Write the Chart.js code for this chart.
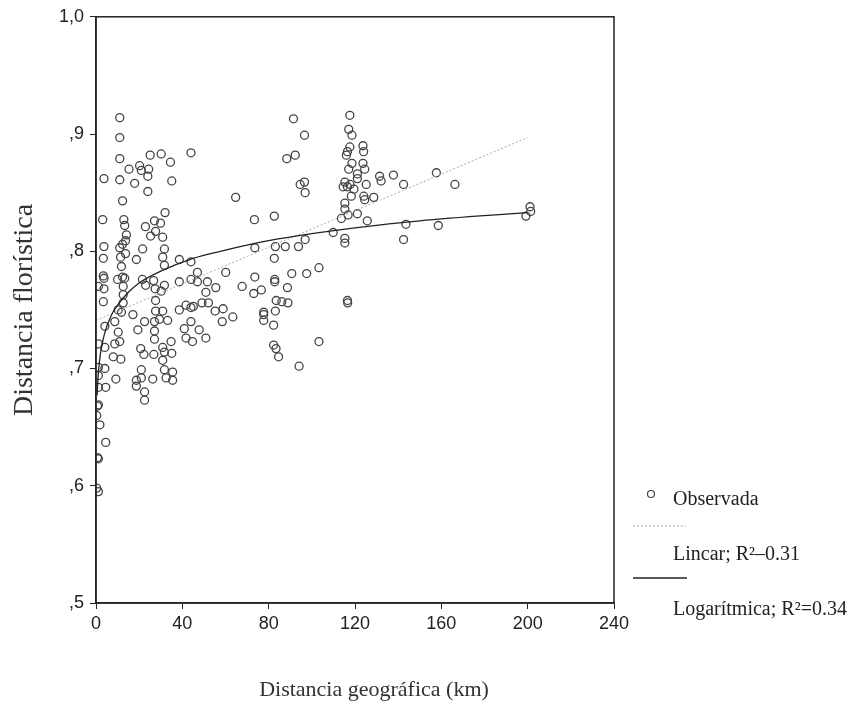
<!DOCTYPE html>
<html>
<head>
<meta charset="utf-8">
<title>Distancia florística vs distancia geográfica</title>
<script src="https://cdn.jsdelivr.net/npm/chart.js@4.4.0/dist/chart.umd.min.js"></script>
<style>
  html, body { margin: 0; padding: 0; background: #fff; }
  #wrap { width: 867px; height: 723px; }
</style>
</head>
<body>
<div id="wrap"><canvas id="myChart" width="867" height="723"></canvas></div>
<script>
// pares de sitios: distancia geografica (km) y distancia floristica
const distGeo = [
  11.0, 11.0, 11.0, 25.1, 30.2, 34.5, 44.0, 20.2, 15.3, 21.0, 24.4, 3.7, 11.0, 17.9, 24.0, 35.1,
  24.0, 12.3, 32.0, 3.1, 12.9, 13.3, 27.1, 29.9, 22.9, 27.6, 14.1, 25.3, 30.9, 13.7, 12.3, 3.7,
  11.0, 21.6, 31.7, 3.4, 11.4, 13.7, 18.7, 30.9, 38.6, 44.0, 11.8, 31.7, 3.4, 3.7, 10.0, 12.3,
  13.3, 21.5, 26.7, 31.7, 38.6, 44.0, 1.1, 3.7, 12.6, 23.0, 27.4, 30.2, 3.4, 12.6, 12.6, 27.6,
  10.3, 11.8, 17.1, 27.6, 30.9, 38.6, 41.7, 44.0, 8.7, 22.5, 27.1, 29.4, 33.2, 44.0, 4.1, 19.4,
  27.1, 40.9, 10.3, 27.1, 41.7, 1.1, 4.1, 8.7, 11.0, 34.8, 30.9, 20.7, 22.2, 26.8, 31.7, 35.1,
  8.0, 11.5, 30.9, 1.1, 4.1, 21.0, 31.7, 35.5, 1.1, 9.2, 18.7, 21.0, 26.3, 32.5, 35.5, 1.1,
  4.5, 18.7, 22.5, 22.5, 1.1, 0.7, 0.3, 1.8, 4.5, 1.1, 0.7, 0.3, 1.1,
  91.5, 96.6, 88.4, 92.3, 94.6, 96.6, 96.9, 64.7, 73.4, 82.6, 73.6, 83.1, 87.7, 93.8, 96.9, 82.6,
  47.0, 60.1, 90.7, 97.6, 47.0, 51.6, 55.5, 67.7, 73.6, 82.8, 82.8, 88.7, 50.9, 73.1, 76.6, 45.1,
  49.1, 52.1, 55.2, 58.9, 63.4, 58.5, 83.5, 86.1, 88.9, 83.1, 77.7, 77.7, 77.7, 82.3, 47.8, 44.7,
  50.9, 82.3, 83.4, 84.6, 94.1,
  117.6, 117.1, 118.6, 117.6, 116.5, 116.0, 123.7, 124.0, 118.6, 123.7, 117.1, 124.5, 121.1, 121.1,
  131.4, 132.1, 137.8, 142.5, 115.3, 116.5, 117.7, 114.5, 119.5, 125.2, 118.3, 124.1, 124.5, 128.7,
  115.3, 115.3, 116.8, 113.7, 121.1, 125.7, 143.6, 109.9, 115.3, 115.3, 142.5, 103.3, 116.5, 116.6,
  103.3, 157.7, 166.3, 158.6, 201.1, 201.4, 199.2
];
const distFlor = [
  .914, .897, .879, .882, .883, .876, .884, .873, .870, .869, .870, .862, .861, .858, .864, .860,
  .851, .843, .833, .827, .827, .822, .826, .824, .821, .817, .814, .813, .812, .809, .806, .804,
  .803, .802, .802, .794, .795, .798, .793, .795, .793, .791, .787, .788, .779, .777, .776, .778,
  .777, .776, .775, .771, .774, .776, .770, .768, .770, .771, .768, .766, .757, .763, .756, .758,
  .750, .748, .746, .749, .749, .750, .754, .752, .740, .740, .740, .742, .741, .740, .736, .733,
  .732, .734, .731, .725, .726, .721, .718, .721, .723, .723, .718, .717, .712, .712, .714, .713,
  .710, .708, .707, .701, .700, .699, .699, .697, .694, .691, .690, .692, .691, .692, .690, .684,
  .684, .685, .680, .673, .669, .668, .660, .652, .637, .623, .624, .598, .595,
  .913, .899, .879, .882, .857, .859, .850, .846, .827, .830, .803, .804, .804, .804, .810, .794,
  .782, .782, .781, .781, .774, .774, .769, .770, .778, .776, .774, .769, .765, .764, .767, .753,
  .756, .756, .749, .751, .744, .740, .758, .757, .756, .749, .748, .746, .741, .737, .733, .723,
  .726, .720, .717, .710, .702,
  .916, .904, .899, .889, .885, .882, .890, .885, .875, .875, .870, .870, .866, .862,
  .864, .860, .865, .857, .859, .855, .857, .855, .853, .857, .847, .847, .844, .846,
  .841, .836, .831, .828, .832, .826, .823, .816, .811, .807, .810, .786, .758, .756,
  .723, .867, .857, .822, .838, .834, .830
];

// rectas/curvas ajustadas
const linealX = [0, 200];
const linealY = [0.741, 0.897];
const logX = [0.5, 1, 2, 4, 7, 10, 15, 20, 30, 45, 60, 80, 100, 120, 150, 200];
const logY = [0.677, 0.694, 0.712, 0.730, 0.745, 0.754, 0.765, 0.773, 0.783, 0.794, 0.801, 0.809, 0.815, 0.820, 0.826, 0.833];

const yTickValues = [0.5, 0.6, 0.7, 0.8, 0.9, 1.0];
const yTickLabels = [',5', ',6', ',7', ',8', ',9', '1,0'];

const ink = '#222';
const tickFont = { family: "'Liberation Sans', Arial, sans-serif", size: 18 };
const serif = "'Liberation Serif', 'Times New Roman', serif";

function toPoints(xs, ys) {
    return xs.map((x, i) => ({ x: x, y: ys[i] }));
}

// marco completo alrededor del area de datos
const frame = {
    id: 'frame',
    afterDraw(chart) {
        const a = chart.chartArea;
        const c = chart.ctx;
        c.save();
        c.strokeStyle = ink;
        c.lineWidth = 1.5;
        c.strokeRect(a.left, a.top, a.right - a.left, a.bottom - a.top);
        c.restore();
    }
};

// leyenda a la derecha y titulo del eje x, como en el original
const leyenda = {
    id: 'leyenda',
    afterDraw(chart) {
        const c = chart.ctx;
        c.save();
        c.textBaseline = 'middle';

        c.font = '22px ' + serif;
        c.fillStyle = '#333';
        c.textAlign = 'center';
        c.fillText('Distancia geográfica (km)', 374, 690);

        c.font = '20px ' + serif;
        c.fillStyle = ink;
        c.textAlign = 'left';

        c.strokeStyle = '#444';
        c.lineWidth = 1.2;
        c.beginPath();
        c.arc(651, 494, 3.5, 0, Math.PI * 2);
        c.stroke();
        c.fillText('Observada', 673, 500);

        c.strokeStyle = '#aaa';
        c.lineWidth = 1;
        c.setLineDash([2, 2]);
        c.beginPath();
        c.moveTo(633, 526);
        c.lineTo(686, 526);
        c.stroke();
        c.fillText('Lincar; R\u00b2\u20130.31', 673, 555);

        c.setLineDash([]);
        c.strokeStyle = ink;
        c.lineWidth = 1.3;
        c.beginPath();
        c.moveTo(633, 578);
        c.lineTo(687, 578);
        c.stroke();
        c.fillText('Logar\u00edtmica; R\u00b2=0.34', 673, 610);
        c.restore();
    }
};

const canvas = document.getElementById('myChart');
const ctx = canvas.getContext('2d');

let chart = new Chart(ctx, {
    type: 'scatter',
    data: {
        datasets: [
            {
                label: 'Observada',
                data: toPoints(distGeo, distFlor),
                pointStyle: 'circle',
                pointRadius: 4,
                pointBorderWidth: 1.3,
                borderColor: '#444',
                backgroundColor: 'rgba(0,0,0,0)',
                order: 3
            },
            {
                label: 'Lineal',
                type: 'line',
                data: toPoints(linealX, linealY),
                borderColor: '#aaa',
                borderWidth: 1,
                borderDash: [2, 2],
                pointRadius: 0,
                fill: false,
                order: 2
            },
            {
                label: 'Logarítmica',
                type: 'line',
                data: toPoints(logX, logY),
                borderColor: ink,
                borderWidth: 1.3,
                pointRadius: 0,
                cubicInterpolationMode: 'monotone',
                fill: false,
                order: 1
            }
        ]
    },
    options: {
        responsive: false,
        animation: false,
        layout: { padding: { top: 15, right: 253, left: 0, bottom: 0 } },
        plugins: {
            legend: { display: false },
            tooltip: { enabled: false }
        },
        scales: {
            x: {
                type: 'linear',
                min: 0,
                max: 240,
                afterFit(scale) { scale.height = 120; },
                ticks: { stepSize: 40, color: ink, font: tickFont, padding: 4, maxRotation: 0 },
                grid: { drawOnChartArea: false, drawTicks: true, tickLength: 6, color: ink },
                border: { display: true, color: ink, width: 1.5 },
                title: { display: false }
            },
            y: {
                min: 0.5,
                max: 1.0,
                afterFit(scale) { scale.width = 96; },
                afterBuildTicks(scale) {
                    scale.ticks = yTickValues.map(v => ({ value: v }));
                },
                ticks: {
                    color: ink,
                    font: tickFont,
                    padding: 6,
                    callback: function (value) {
                        const i = yTickValues.findIndex(v => Math.abs(v - value) < 1e-6);
                        return i >= 0 ? yTickLabels[i] : '';
                    }
                },
                grid: { drawOnChartArea: false, drawTicks: true, tickLength: 6, color: ink },
                border: { display: true, color: ink, width: 1.5 },
                title: {
                    display: true,
                    text: 'Distancia florística',
                    color: '#333',
                    font: { family: serif, size: 28 },
                    padding: { top: 8, bottom: 0 }
                }
            }
        }
    },
    plugins: [frame, leyenda]
});
</script>
</body>
</html>
